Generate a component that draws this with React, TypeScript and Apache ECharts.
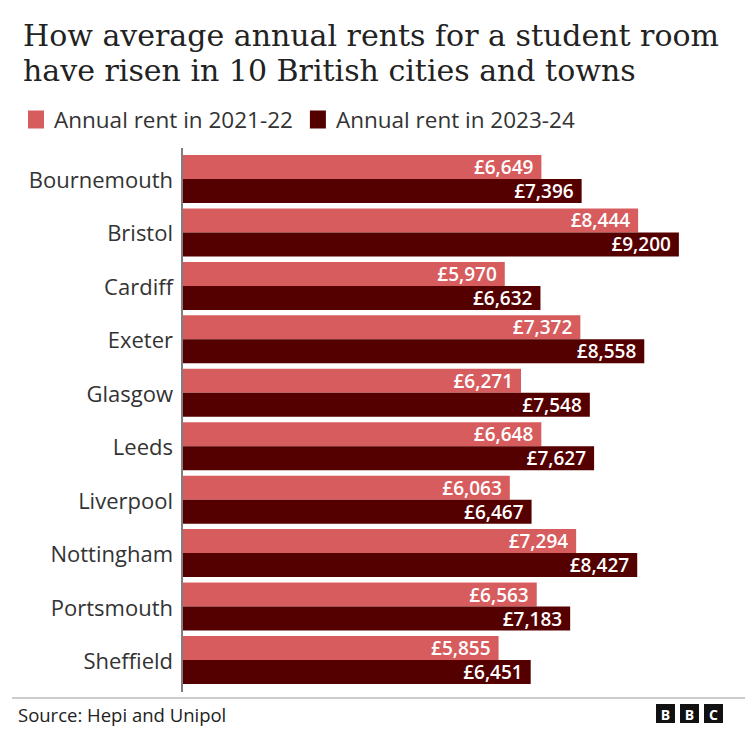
import React, { useEffect, useRef } from "react";
import * as echarts from "echarts";

const cities = ["Bournemouth", "Bristol", "Cardiff", "Exeter", "Glasgow", "Leeds", "Liverpool", "Nottingham", "Portsmouth", "Sheffield"];
const rent2122 = [6649, 8444, 5970, 7372, 6271, 6648, 6063, 7294, 6563, 5855];
const rent2324 = [7396, 9200, 6632, 8558, 7548, 7627, 6467, 8427, 7183, 6451];
const seriesNames = ["Annual rent in 2021-22", "Annual rent in 2023-24"];
const colors = ["#d75c5e", "#540000"];

const SANS = "'Open Sans', 'Noto Sans', sans-serif";
const SERIF = "'DejaVu Serif', serif";

export default function App() {
  const ref = useRef<HTMLDivElement>(null);
  useEffect(() => {
    if (!ref.current) return;
    const chart = echarts.init(ref.current, null, { renderer: "svg" });
    const fmt = (p: any) => "£" + Number(p.value).toLocaleString("en-GB");
    const barLabel = { show: true, position: "insideRight", distance: 8, formatter: fmt, color: "#fff", fontFamily: SANS, fontWeight: 600, fontSize: 19 };
    chart.setOption({
      animation: false,
      backgroundColor: "#ffffff",
      title: {
        text: "How average annual rents for a student room\nhave risen in 10 British cities and towns",
        left: 23,
        top: 18,
        padding: 0,
        textStyle: { fontFamily: SERIF, fontSize: 30, fontWeight: 500, color: "#222", lineHeight: 35 },
      },
      legend: {
        left: 28,
        top: 108,
        padding: 0,
        icon: "rect",
        itemWidth: 16,
        itemHeight: 18,
        itemGap: 17,
        selectedMode: false,
        textStyle: { fontFamily: SANS, fontSize: 22.5, color: "#333", padding: [0, 0, 0, 5] },
        data: seriesNames,
      },
      grid: { left: 183, top: 152.3, width: 539, height: 534.4, containLabel: false },
      xAxis: {
        type: "value",
        min: 0,
        max: 10000,
        show: false,
      },
      yAxis: {
        type: "category",
        data: cities,
        inverse: true,
        axisLine: { show: false },
        axisTick: { show: false },
        axisLabel: { fontFamily: SANS, fontSize: 22, color: "#333", margin: 10 },
      },
      series: [
        {
          name: seriesNames[0],
          type: "bar",
          data: rent2122,
          barWidth: 24,
          barGap: "0%",
          itemStyle: { color: colors[0] },
          label: barLabel,
        },
        {
          name: seriesNames[1],
          type: "bar",
          data: rent2324,
          barWidth: 24,
          barGap: "0%",
          itemStyle: { color: colors[1] },
          label: barLabel,
        },
      ],
      graphic: [
        { type: "line", shape: { x1: 182, y1: 148, x2: 182, y2: 692 }, style: { stroke: "#555", lineWidth: 1.5 } },
        { type: "line", shape: { x1: 12, y1: 698, x2: 745, y2: 698 }, style: { stroke: "#999", lineWidth: 1 } },
        { type: "text", x: 18, y: 714, style: { text: "Source: Hepi and Unipol", verticalAlign: "middle", fontFamily: SANS, fontSize: 18.5, fill: "#222" } },
        { type: "rect", shape: { x: 656, y: 704, width: 19, height: 19 }, style: { fill: "#111" } },
        { type: "rect", shape: { x: 680, y: 704, width: 19, height: 19 }, style: { fill: "#111" } },
        { type: "rect", shape: { x: 704, y: 704, width: 19, height: 19 }, style: { fill: "#111" } },
        { type: "text", x: 665.5, y: 714, style: { text: "B", align: "center", verticalAlign: "middle", fontFamily: SANS, fontWeight: "bold", fontSize: 14, fill: "#fff" } },
        { type: "text", x: 689.5, y: 714, style: { text: "B", align: "center", verticalAlign: "middle", fontFamily: SANS, fontWeight: "bold", fontSize: 14, fill: "#fff" } },
        { type: "text", x: 713.5, y: 714, style: { text: "C", align: "center", verticalAlign: "middle", fontFamily: SANS, fontWeight: "bold", fontSize: 14, fill: "#fff" } },
      ],
    });
    return () => chart.dispose();
  }, []);
  return <div ref={ref} style={{ position: "fixed", left: 0, top: 0, width: 756, height: 740 }} />;
}
